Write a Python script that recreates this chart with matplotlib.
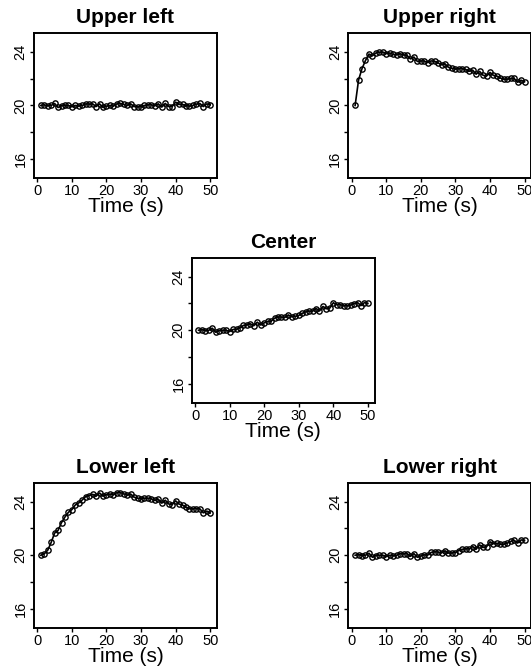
import matplotlib
matplotlib.use("Agg")
import matplotlib.pyplot as plt

plt.rcParams['font.family'] = ['Liberation Sans', 'DejaVu Sans']

time_s = list(range(1, 51))

upper_left = [20.00, 20.05, 19.97, 20.00, 20.15, 19.85, 19.98, 20.00, 20.00, 19.90,
              20.00, 19.95, 20.00, 20.12, 20.10, 20.12, 19.92, 20.12, 19.85, 19.95,
              20.00, 19.95, 20.12, 20.15, 20.08, 20.00, 20.12, 19.92, 19.90, 19.90,
              20.00, 20.05, 20.05, 19.98, 20.12, 19.88, 20.15, 19.92, 19.92, 20.25,
              20.08, 20.08, 19.98, 19.95, 20.00, 20.10, 20.15, 19.92, 20.12, 20.05]

upper_right = [20.00, 21.90, 22.75, 23.35, 23.83, 23.70, 23.91, 23.97, 23.98, 23.87,
               23.91, 23.80, 23.79, 23.85, 23.77, 23.73, 23.47, 23.61, 23.28, 23.32,
               23.31, 23.20, 23.32, 23.29, 23.17, 23.03, 23.10, 22.84, 22.77, 22.71,
               22.75, 22.74, 22.68, 22.55, 22.63, 22.33, 22.54, 22.25, 22.19, 22.46,
               22.24, 22.19, 22.04, 21.96, 21.96, 22.01, 22.01, 21.73, 21.88, 21.76]

center = [20.00, 20.05, 19.97, 20.00, 20.15, 19.85, 19.98, 20.00, 20.00, 19.90,
          20.06, 20.07, 20.18, 20.36, 20.40, 20.48, 20.34, 20.60, 20.39, 20.55,
          20.66, 20.67, 20.90, 20.99, 20.98, 20.96, 21.14, 21.00, 21.04, 21.10,
          21.26, 21.37, 21.43, 21.42, 21.62, 21.44, 21.77, 21.60, 21.66, 22.05,
          21.90, 21.91, 21.83, 21.81, 21.88, 21.99, 22.06, 21.84, 22.06, 22.00]

lower_left = [20.00, 20.10, 20.37, 20.95, 21.65, 21.85, 22.43, 22.85, 23.20, 23.40,
              23.75, 23.90, 24.12, 24.37, 24.45, 24.54, 24.40, 24.64, 24.40, 24.51,
              24.56, 24.50, 24.66, 24.67, 24.58, 24.47, 24.56, 24.32, 24.25, 24.20,
              24.25, 24.25, 24.20, 24.08, 24.17, 23.88, 24.10, 23.82, 23.77, 24.05,
              23.81, 23.74, 23.57, 23.47, 23.45, 23.48, 23.46, 23.16, 23.29, 23.15]

lower_right = [20.00, 20.05, 19.97, 20.00, 20.15, 19.85, 19.98, 20.00, 20.00, 19.90,
               20.00, 19.95, 20.00, 20.12, 20.10, 20.12, 19.92, 20.12, 19.85, 19.95,
               20.03, 20.01, 20.21, 20.27, 20.23, 20.18, 20.33, 20.16, 20.17, 20.20,
               20.35, 20.44, 20.49, 20.46, 20.65, 20.45, 20.77, 20.58, 20.63, 21.00,
               20.86, 20.89, 20.82, 20.82, 20.90, 21.03, 21.11, 20.91, 21.14, 21.10]

panels = [
    ("Upper left", upper_left, [0.064, 0.734]),
    ("Upper right", upper_right, [0.656, 0.734]),
    ("Center", center, [0.361, 0.398]),
    ("Lower left", lower_left, [0.064, 0.0617]),
    ("Lower right", lower_right, [0.656, 0.0617]),
]

x_ticks = [0, 10, 20, 30, 40, 50]
y_ticks = [16, 18, 20, 22, 24]
y_labels = ["16", "", "20", "", "24"]

fig = plt.figure(figsize=(5.31, 6.69), dpi=100)

for title, values, (left, bottom) in panels:
    ax = fig.add_axes([left, bottom, 0.3446, 0.2167])
    ax.plot(time_s, values, color="black", linewidth=1.2,
            marker="o", markersize=3.8, markerfacecolor="none",
            markeredgewidth=1.0, markeredgecolor="black")
    ax.set_xlim(-0.96, 51.96)
    ax.set_ylim(14.6, 25.4)
    ax.set_xticks(x_ticks)
    ax.set_yticks(y_ticks)
    ax.set_yticklabels(y_labels, rotation=90, va="center")
    ax.tick_params(direction="out", length=3, width=1, pad=1.5,
                   labelsize=10.5, colors="black")
    for spine in ax.spines.values():
        spine.set_linewidth(1.4)
    ax.set_title(title, fontsize=15, fontweight="bold", pad=7)
    ax.set_xlabel("Time (s)", fontsize=15, labelpad=-1)

fig.savefig("out.png", dpi=100)
